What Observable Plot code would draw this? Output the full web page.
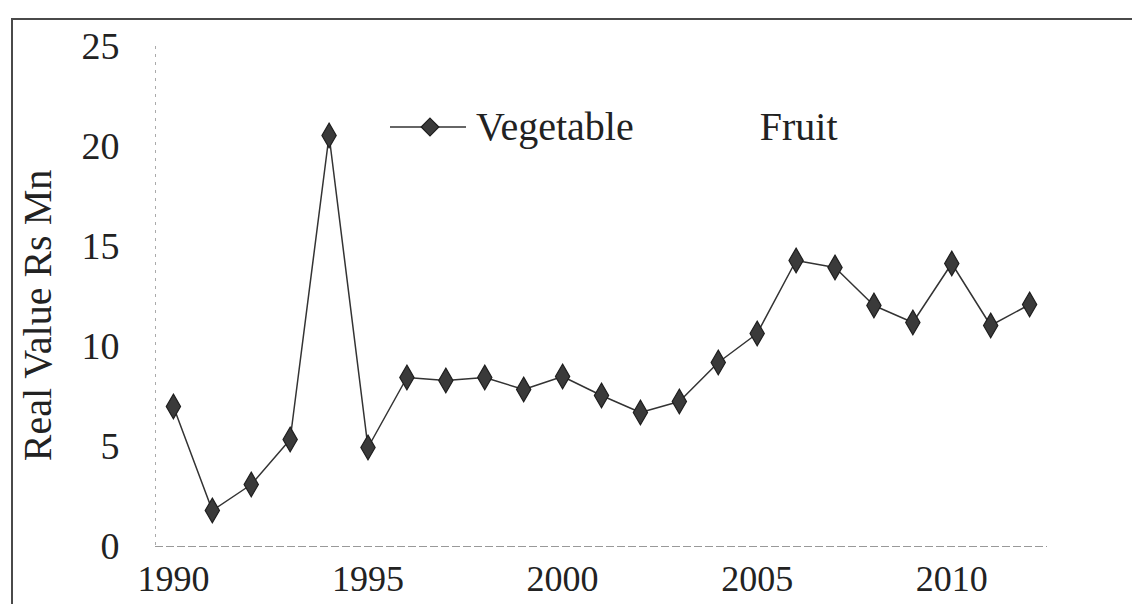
<!DOCTYPE html>
<html>
<head>
<meta charset="utf-8">
<script src="https://cdn.jsdelivr.net/npm/d3@7"></script>
<script src="https://cdn.jsdelivr.net/npm/@observablehq/plot@0.6"></script>
<style>
  html, body { margin: 0; padding: 0; background: #fff; }
  #wrap { position: relative; width: 1132px; height: 604px; overflow: hidden; font-family: "Liberation Serif", "Times New Roman", serif; }
  #border { position: absolute; left: 11px; top: 18px; right: -4px; bottom: -4px; border-left: 2px solid #4a4a4a; border-top: 2px solid #4a4a4a; pointer-events: none; }
  #legend { position: absolute; left: 390px; top: 103px; display: flex; align-items: center; font-size: 40px; color: #222; white-space: nowrap; }
  #legend .item { display: flex; align-items: center; }
  #legend svg { display: block; }
</style>
</head>
<body>
<div id="wrap">
  <div id="chart"></div>
  <div id="legend"></div>
  <div id="border"></div>
</div>
<script>
// ---- data ----
const years = [1990, 1991, 1992, 1993, 1994, 1995, 1996, 1997, 1998, 1999, 2000, 2001,
               2002, 2003, 2004, 2005, 2006, 2007, 2008, 2009, 2010, 2011, 2012];
const vegetable = [7.0, 1.8, 3.1, 5.35, 20.55, 4.95, 8.45, 8.3, 8.45, 7.85, 8.5, 7.55,
                   6.7, 7.25, 9.2, 10.65, 14.3, 13.95, 12.05, 11.2, 14.15, 11.05, 12.1];
const seriesNames = ["Vegetable", "Fruit"];
const xTicks = [1990, 1995, 2000, 2005, 2010];
const yTicks = [0, 5, 10, 15, 20, 25];
const yLabel = "Real Value Rs Mn";

const rows = years.map((year, i) => ({ year, value: vegetable[i] }));
const xDomain = [1989.54, 2012.46];

const chart = Plot.plot({
  width: 1132,
  height: 604,
  marginTop: 46,
  marginRight: 85,
  marginBottom: 58,
  marginLeft: 155,
  style: { fontFamily: "'Liberation Serif', 'Times New Roman', serif", color: "#222", background: "transparent" },
  x: { domain: xDomain },
  y: { domain: [0, 25] },
  marks: [
    Plot.ruleX([xDomain[0]], { stroke: "#aaa", strokeDasharray: "3,5", strokeWidth: 1 }),
    Plot.ruleY([0], { stroke: "#999", strokeDasharray: "8,3", strokeWidth: 1.2 }),
    Plot.axisX({ ticks: xTicks, tickSize: 0, tickPadding: 19, fontSize: 36, tickFormat: d => String(d), label: null }),
    Plot.axisY({ ticks: yTicks, tickSize: 0, tickPadding: 36, fontSize: 38, label: null }),
    Plot.text([yLabel], { frameAnchor: "left", dx: -117, dy: 19, rotate: -90, textAnchor: "middle", lineAnchor: "middle", fontSize: 40, fill: "#222" }),
    Plot.line(rows, { x: "year", y: "value", stroke: "#333", strokeWidth: 1.5 }),
    Plot.dot(rows, { x: "year", y: "value", symbol: "diamond", r: 7.5, fill: "#3a3a3a", stroke: "#1e1e1e", strokeWidth: 1.2 })
  ]
});
document.getElementById("chart").appendChild(chart);

// ---- legend (overlay inside plot area) ----
const legend = d3.select("#legend");
const veg = legend.append("div").attr("class", "item");
const sym = veg.append("svg").attr("width", 86).attr("height", 40);
sym.append("line").attr("x1", 0).attr("x2", 76).attr("y1", 20).attr("y2", 20).attr("stroke", "#333").attr("stroke-width", 1.6);
sym.append("path").attr("d", d3.symbol(d3.symbolDiamond2, 200)()).attr("transform", "translate(40,20)")
   .attr("fill", "#3a3a3a").attr("stroke", "#1e1e1e").attr("stroke-width", 1.2);
veg.append("span").text(seriesNames[0]);
const fruit = legend.append("div").attr("class", "item").style("margin-left", "126px");
fruit.append("span").text(seriesNames[1]);
</script>
</body>
</html>
